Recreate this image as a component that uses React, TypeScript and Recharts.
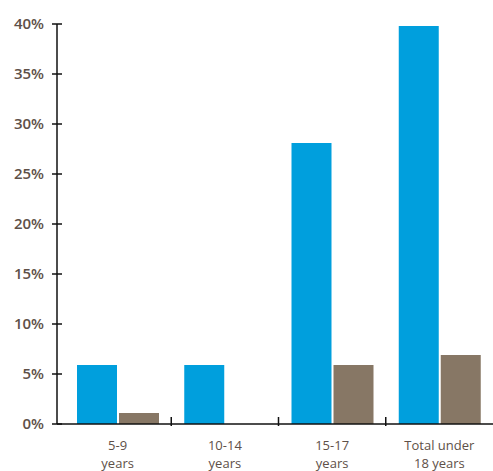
import { Bar, BarChart, XAxis, YAxis } from "recharts";

const categories = ["5-9\nyears", "10-14\nyears", "15-17\nyears", "Total under\n18 years"];
const blueValues = [5.9, 5.9, 28.1, 39.8];
const brownValues = [1.1, 0, 5.9, 6.9];
const yTicks = [0, 5, 10, 15, 20, 25, 30, 35, 40];

const data = categories.map((name, i) => ({
    name,
    blue: blueValues[i],
    brown: brownValues[i],
}));

const textColor = "#5e5048";

function YTick(props: any) {
    const { x, y, payload } = props;
    return (
        <g>
            <line x1={x + 3} x2={x + 13} y1={y} y2={y} stroke="#111" strokeWidth={1.5} />
            <text
                x={x - 5}
                y={y}
                dy={5}
                textAnchor="end"
                fill={textColor}
                fontSize={15}
                fontFamily="'Open Sans', sans-serif"
                fontWeight={600}
            >
                {`${payload.value}%`}
            </text>
        </g>
    );
}

function XTick(props: any) {
    const { x, y, payload, index, visibleTicksCount } = props;
    const lines = String(payload.value).split("\n");
    const half = payload.offset ?? 53.75;
    const axisY = y - 6;
    return (
        <g>
            {index < visibleTicksCount - 1 && (
                <line x1={x + half} x2={x + half} y1={axisY} y2={axisY - 9} stroke="#111" strokeWidth={1.5} />
            )}
            {lines.map((l, i) => (
                <text
                    key={i}
                    x={x}
                    y={axisY + 24 + i * 18}
                    textAnchor="middle"
                    fill={textColor}
                    fontSize={13}
                    fontFamily="'Open Sans', sans-serif"
                >
                    {l}
                </text>
            ))}
        </g>
    );
}

export default function App() {
    return (
        <div style={{ position: "absolute", left: 0, top: 0, background: "#fff" }}>
            <BarChart
                width={493}
                height={471}
                data={data}
                margin={{ top: 24, right: 0, bottom: 0, left: 0 }}
                barSize={40}
                barGap={2}
            >
                <XAxis
                    dataKey="name"
                    padding={{ left: 7, right: 0 }}
                    axisLine={{ stroke: "#111", strokeWidth: 1.5 }}
                    tickLine={false}
                    tick={<XTick />}
                    interval={0}
                    height={47}
                />
                <YAxis
                    width={57}
                    domain={[0, 40]}
                    ticks={yTicks}
                    interval={0}
                    axisLine={{ stroke: "#111", strokeWidth: 1.5 }}
                    tickLine={false}
                    tick={<YTick />}
                />
                <Bar dataKey="blue" fill="#009fdd" isAnimationActive={false} />
                <Bar dataKey="brown" fill="#877765" isAnimationActive={false} />
            </BarChart>
        </div>
    );
}
